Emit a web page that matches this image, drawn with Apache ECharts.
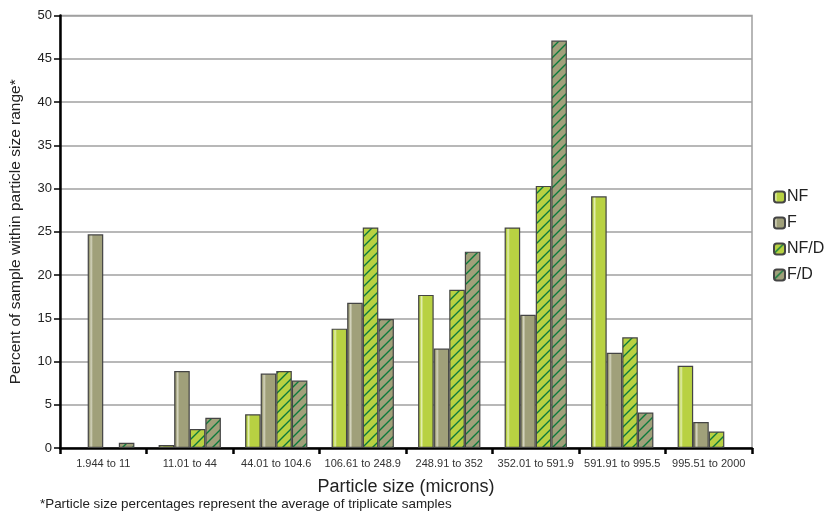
<!DOCTYPE html>
<html>
<head>
<meta charset="utf-8">
<script src="https://cdn.jsdelivr.net/npm/echarts@6/dist/echarts.min.js"></script>
<style>html,body{margin:0;padding:0;background:#fff}#c{width:826px;height:513px}</style>
</head>
<body>
<div id="c"></div>
<script>
var categories = ['1.944 to 11','11.01 to 44','44.01 to 104.6','106.61 to 248.9','248.91 to 352','352.01 to 591.9','591.91 to 995.5','995.51 to 2000'];
var seriesNames = ['NF','F','NF/D','F/D'];
var valuesNF  = [null, 0.35, 3.9, 13.8, 17.7, 25.5, 29.1, 9.5];
var valuesF   = [24.7, 8.9, 8.6, 16.8, 11.5, 15.4, 11.0, 3.0];
var valuesNFD = [null, 2.2, 8.9, 25.5, 18.3, 30.3, 12.8, 1.9];
var valuesFD  = [0.6, 3.5, 7.8, 14.9, 22.7, 47.1, 4.1, null];
var yTicks = [0,5,10,15,20,25,30,35,40,45,50];

function grad(edge, hi, base){
  return {type:'linear', x:0, y:0, x2:1, y2:0, colorStops:[
    {offset:0, color:edge},{offset:0.12, color:base},{offset:0.22, color:hi},{offset:0.34, color:base},{offset:1, color:base}]};
}
function hatchPattern(base){
  var p = 10;
  var cv = document.createElement('canvas');
  cv.width = p; cv.height = p;
  var ctx = cv.getContext('2d');
  ctx.fillStyle = base; ctx.fillRect(0,0,p,p);
  ctx.strokeStyle = '#0b7a3c'; ctx.lineWidth = 1.4;
  ctx.beginPath();
  ctx.moveTo(-2, p+2); ctx.lineTo(p+2, -2);
  ctx.moveTo(-2, 2); ctx.lineTo(2, -2);
  ctx.moveTo(p-2, p+2); ctx.lineTo(p+2, p-2);
  ctx.stroke();
  return {image: cv, repeat: 'repeat'};
}
var greenFill = grad('#8daa2a','#e2eeb0','#b8d142');
var oliveFill = grad('#7f7f5c','#d6d6c0','#a0a07a');
var greenHatch = hatchPattern('#b8d142');
var oliveHatch = hatchPattern('#a0a07a');

function mk(name, data, fill){
  return {name:name, type:'bar', data:data, barGap:'0%', barCategoryGap:'28%',
    itemStyle:{color:fill, borderColor:'#444', borderWidth:1.2}};
}

var chart = echarts.init(document.getElementById('c'), null, {renderer:'canvas'});
chart.setOption({
  animation:false,
  backgroundColor:'#fff',
  textStyle:{fontFamily:'Liberation Sans, Arial, sans-serif'},
  grid:{left:60, right:74, top:15.5, bottom:65, show:true, borderColor:'#a0a0a0', borderWidth:1.5, backgroundColor:'transparent'},
  legend:{orient:'vertical', left:768, top:184, itemWidth:11, itemHeight:11, itemGap:10,
    data:seriesNames, textStyle:{fontSize:16, color:'#222', padding:[0,0,0,-3]}},
  xAxis:{type:'category', data:categories,
    axisLine:{lineStyle:{color:'#000', width:2.5}},
    axisTick:{show:true, length:6, lineStyle:{color:'#000', width:2.5}},
    axisLabel:{fontSize:11, color:'#333', margin:10, interval:0},
    name:'Particle size (microns)', nameLocation:'middle', nameGap:30,
    nameTextStyle:{fontSize:18, color:'#222'}},
  yAxis:{type:'value', min:0, max:50, interval:5,
    axisLine:{show:true, lineStyle:{color:'#000', width:2.5}},
    axisTick:{show:true, length:6, lineStyle:{color:'#000', width:1.5}},
    axisLabel:{fontSize:13, color:'#222', margin:8},
    splitLine:{lineStyle:{color:'#a0a0a0', width:1.5}},
    name:'Percent of sample within particle size range*', nameLocation:'middle', nameGap:36,
    nameTextStyle:{fontSize:15.5, color:'#222'}},
  graphic:[{type:'text', left:40, top:498, style:{text:'*Particle size percentages represent the average of triplicate samples', fontSize:13.4, fill:'#222', fontFamily:'Liberation Sans, Arial, sans-serif'}}],
  series:[
    mk('NF', valuesNF, greenFill),
    mk('F', valuesF, oliveFill),
    mk('NF/D', valuesNFD, greenHatch),
    mk('F/D', valuesFD, oliveHatch)
  ]
});
</script>
</body>
</html>
